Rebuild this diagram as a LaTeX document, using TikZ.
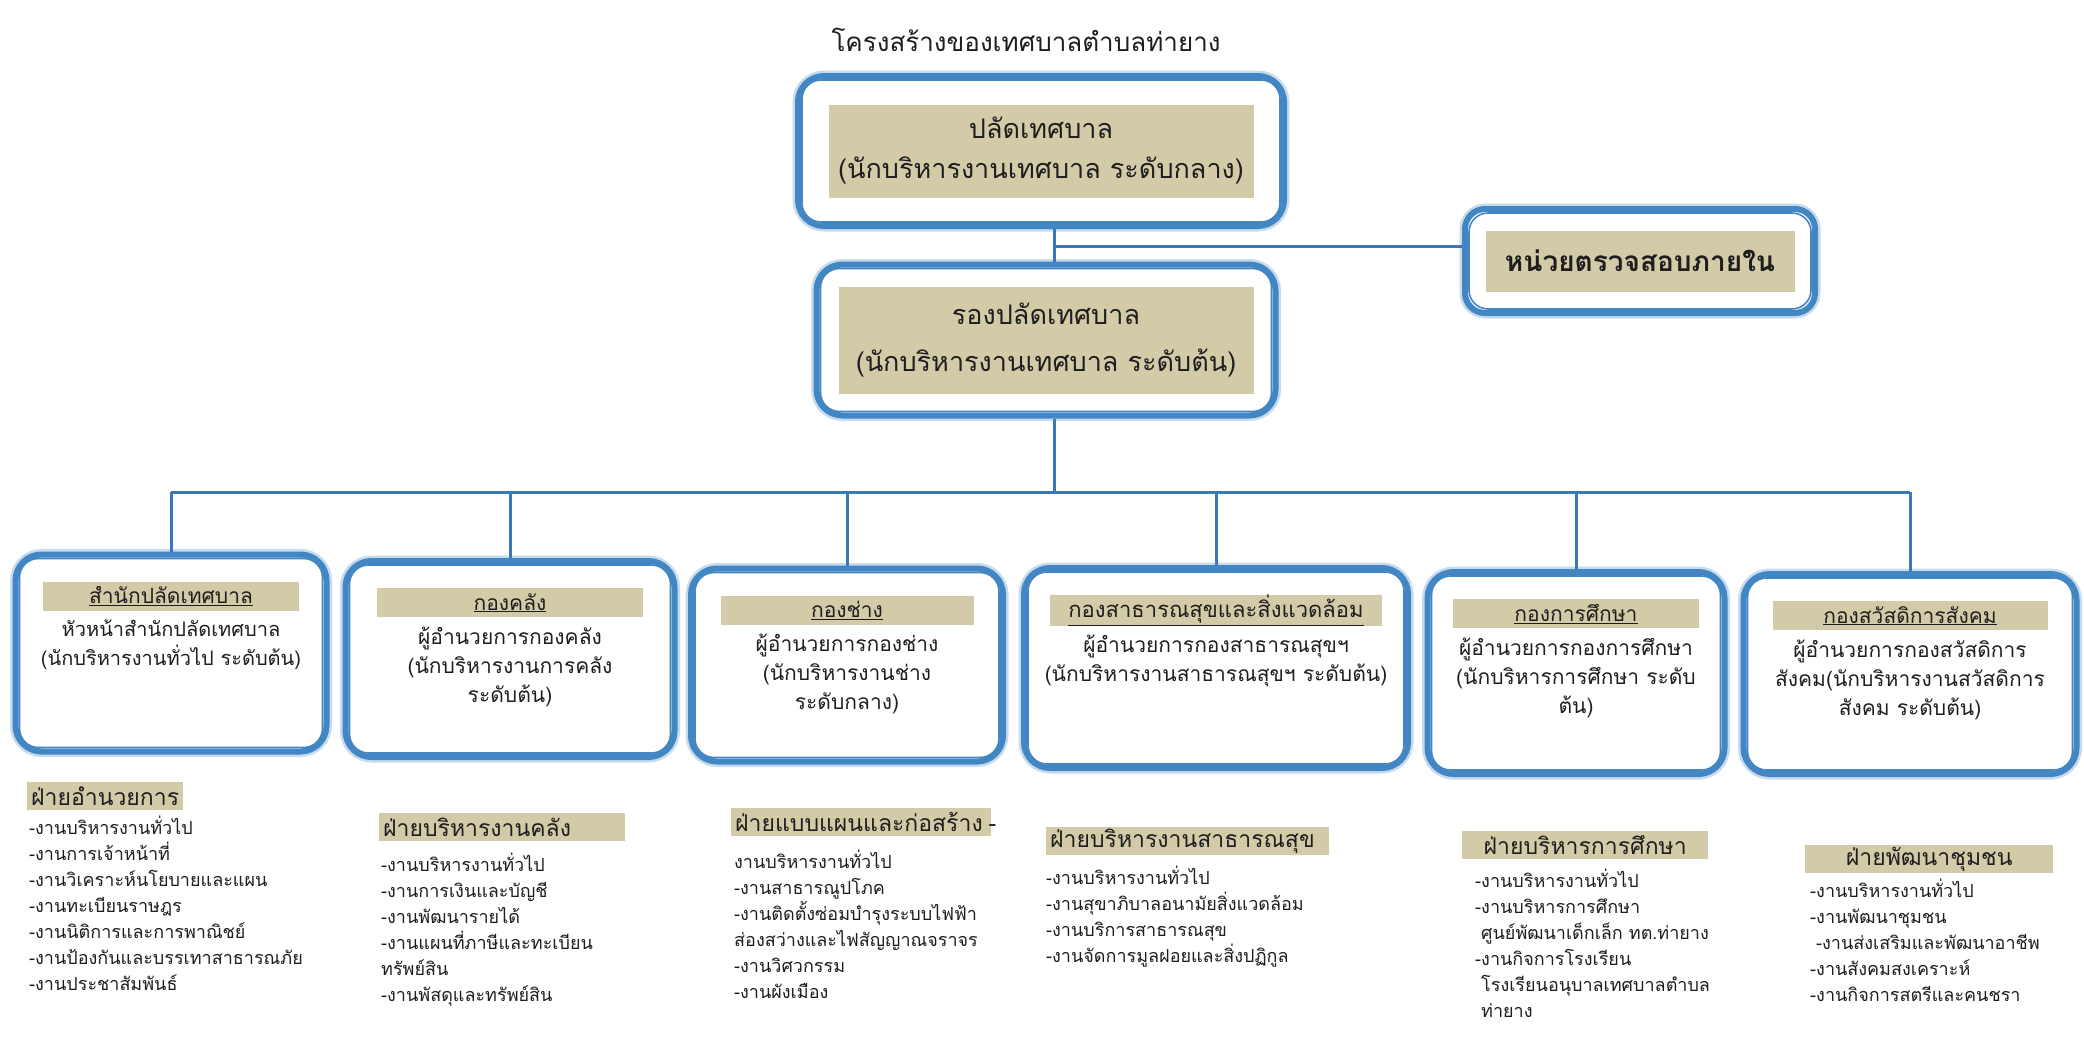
\documentclass[tikz,border=0pt]{standalone}
\usepackage{fontspec}
\setmainfont[Script=Thai]{Loma}
\usetikzlibrary{positioning}

\definecolor{frameblue}{RGB}{66,135,196}
\definecolor{wireblue}{RGB}{58,120,185}
\definecolor{khaki}{RGB}{211,203,168}
\definecolor{ink}{RGB}{30,30,30}

\tikzset{
  frame/.style={draw=frameblue, line width=6pt, rounded corners=26pt, fill=white, inner sep=0pt,
    preaction={draw=frameblue!30, line width=11pt}},
  inset/.style={draw=frameblue, line width=1.6pt, rounded corners=19pt},
  wire/.style={draw=wireblue, line width=3pt},
  plate/.style={fill=khaki, text=ink, align=center, inner sep=0pt},
  head/.style={fill=khaki, text=ink, inner sep=0pt, minimum height=29pt, font=\fontsize{21}{24}\selectfont},
  body/.style={text=ink, align=center, inner sep=0pt, font=\fontsize{21}{29}\selectfont},
  sect/.style={fill=khaki, text=ink, anchor=north west, inner xsep=4pt, inner ysep=0pt, minimum height=28pt, font=\fontsize{23}{26}\selectfont},
  items/.style={text=ink, align=left, inner sep=0pt, anchor=north west, font=\fontsize{18}{26}\selectfont},
}

\begin{document}
\begin{tikzpicture}[x=1pt,y=-1pt]
  \fill[white] (0,0) rectangle (2084,1049);
  \useasboundingbox (0,0) rectangle (2084,1049);

  \node[text=ink, font=\fontsize{26}{30}\selectfont] (title) at (1026,40) {โครงสร้างของเทศบาลตำบลท่ายาง};

  % top part
  \node[frame, minimum width=486pt, minimum height=150pt] (palbox) at (1041,151) {};
  \node[plate, minimum width=425pt, minimum height=93pt, font=\fontsize{27}{40}\selectfont] (pal) at (palbox.center) {ปลัดเทศบาล\\(นักบริหารงานเทศบาล ระดับกลาง)};
  \node[frame, minimum width=459pt, minimum height=151pt] (rongbox) at (1046,340) {};
  \node[plate, minimum width=415pt, minimum height=107pt, font=\fontsize{27}{47}\selectfont] (rong) at (rongbox.center) {รองปลัดเทศบาล\\(นักบริหารงานเทศบาล ระดับต้น)};
  \node[frame, minimum width=350pt, minimum height=104pt, rounded corners=20pt] (auditbox) at (1640,261) {};
  \node[plate, minimum width=309pt, minimum height=61pt, font=\bfseries\fontsize{28}{32}\selectfont] (audit) at (auditbox.center) {หน่วยตรวจสอบภายใน};

  % divisions
  \foreach \i/\x/\y/\w/\h in {1/171/653/311/197, 2/510/659/329/196, 3/847/665/312/193,
                              4/1216/668/384/200, 5/1576/673/297/202, 6/1910/674/333/200}
    \node[frame, minimum width=\w pt, minimum height=\h pt] (b\i) at (\x,\y) {};

  \foreach \b in {palbox,rongbox,auditbox,b1,b2,b3,b4,b5,b6}
    \draw[inset] ([shift={(7pt,7pt)}]\b.south west) rectangle ([shift={(-7pt,-7pt)}]\b.north east);

  \node[head, minimum width=256pt, below=30pt of b1.north] (h1) {\underline{สำนักปลัดเทศบาล}};
  \node[body, below=9pt of h1, font=\fontsize{20}{29}\selectfont] (t1) {หัวหน้าสำนักปลัดเทศบาล\\(นักบริหารงานทั่วไป ระดับต้น)};
  \node[head, minimum width=266pt, below=30pt of b2.north] (h2) {\underline{กองคลัง}};
  \node[body, below=9pt of h2] (t2) {ผู้อำนวยการกองคลัง\\(นักบริหารงานการคลัง\\ระดับต้น)};
  \node[head, minimum width=253pt, below=30pt of b3.north] (h3) {\underline{กองช่าง}};
  \node[body, below=9pt of h3] (t3) {ผู้อำนวยการกองช่าง\\(นักบริหารงานช่าง\\ระดับกลาง)};
  \node[head, minimum width=332pt, below=30pt of b4.north, font=\fontsize{22}{24}\selectfont] (h4) {\underline{กองสาธารณสุขและสิ่งแวดล้อม}};
  \node[body, below=9pt of h4] (t4) {ผู้อำนวยการกองสาธารณสุขฯ\\(นักบริหารงานสาธารณสุขฯ ระดับต้น)};
  \node[head, minimum width=246pt, below=30pt of b5.north] (h5) {\underline{กองการศึกษา}};
  \node[body, below=9pt of h5] (t5) {ผู้อำนวยการกองการศึกษา\\(นักบริหารการศึกษา ระดับ\\ต้น)};
  \node[head, minimum width=275pt, below=30pt of b6.north] (h6) {\underline{กองสวัสดิการสังคม}};
  \node[body, below=9pt of h6] (t6) {ผู้อำนวยการกองสวัสดิการ\\สังคม(นักบริหารงานสวัสดิการ\\สังคม ระดับต้น)};

  % connectors
  \coordinate (junc) at (1054,246);
  \coordinate (bus) at (1054,492);
  \draw[wire] (junc |- palbox.south) -- (junc |- rongbox.north);
  \draw[wire] (junc) -- (junc -| auditbox.west);
  \draw[wire] (junc |- rongbox.south) -- (bus);
  \draw[wire] (b1.north |- bus) -- (b6.north |- bus);
  \foreach \i in {1,...,6}
    \draw[wire] (b\i.north |- bus) -- (b\i.north);

  % sections
  \node[sect] (f1) at (27,782) {ฝ่ายอำนวยการ};
  \node[items] (l1) at (29,816) {-งานบริหารงานทั่วไป\\-งานการเจ้าหน้าที่\\-งานวิเคราะห์นโยบายและแผน\\-งานทะเบียนราษฎร\\-งานนิติการและการพาณิชย์\\-งานป้องกันและบรรเทาสาธารณภัย\\-งานประชาสัมพันธ์};
  \node[sect, text width=238pt] (f2) at (379,813) {ฝ่ายบริหารงานคลัง};
  \node[items] (l2) at (381,853) {-งานบริหารงานทั่วไป\\-งานการเงินและบัญชี\\-งานพัฒนารายได้\\-งานแผนที่ภาษีและทะเบียน\\ทรัพย์สิน\\-งานพัสดุและทรัพย์สิน};
  \node[sect, text width=252pt] (f3) at (731,808) {ฝ่ายแบบแผนและก่อสร้าง\rlap{\hspace{6pt}-}};
  \node[items] (l3) at (734,850) {งานบริหารงานทั่วไป\\-งานสาธารณูปโภค\\-งานติดตั้งซ่อมบำรุงระบบไฟฟ้า\\ส่องสว่างและไฟสัญญาณจราจร\\-งานวิศวกรรม\\-งานผังเมือง};
  \node[sect, text width=275pt] (f4) at (1046,827) {ฝ่ายบริหารงานสาธารณสุข};
  \node[items] (l4) at (1046,866) {-งานบริหารงานทั่วไป\\-งานสุขาภิบาลอนามัยสิ่งแวดล้อม\\-งานบริการสาธารณสุข\\-งานจัดการมูลฝอยและสิ่งปฏิกูล};
  \node[sect, text width=238pt, align=center] (f5) at (1462,831) {ฝ่ายบริหารการศึกษา};
  \node[items] (l5) at (1475,869) {-งานบริหารงานทั่วไป\\-งานบริหารการศึกษา\\\phantom{-}ศูนย์พัฒนาเด็กเล็ก ทต.ท่ายาง\\-งานกิจการโรงเรียน\\\phantom{-}โรงเรียนอนุบาลเทศบาลตำบล\\\phantom{-}ท่ายาง};
  \node[sect, text width=240pt, align=center] (f6) at (1805,845) {ฝ่ายพัฒนาชุมชน};
  \node[items] (l6) at (1810,879) {-งานบริหารงานทั่วไป\\-งานพัฒนาชุมชน\\\phantom{-}-งานส่งเสริมและพัฒนาอาชีพ\\-งานสังคมสงเคราะห์\\-งานกิจการสตรีและคนชรา};
\end{tikzpicture}
\end{document}
